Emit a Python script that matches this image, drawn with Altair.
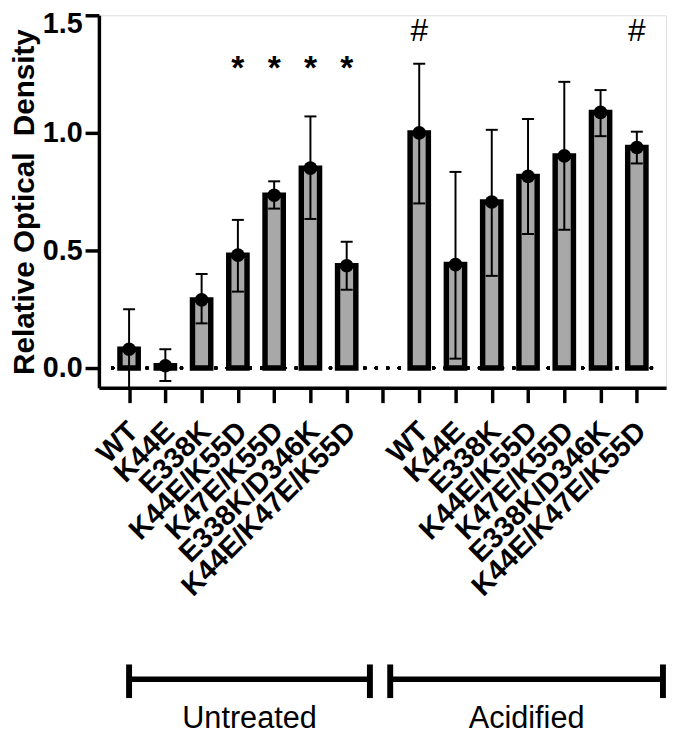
import json
import altair as alt
import pandas as pd

# ---- data ----
mutants = ["WT", "K44E", "E338K", "K44E/K55D", "K47E/K55D", "E338K/D346K", "K44E/K47E/K55D"]
groups = ["Untreated", "Acidified"]

untreated_mean = [0.08, 0.01, 0.29, 0.48, 0.735, 0.85, 0.435]
untreated_lo = [-0.085, -0.055, 0.19, 0.325, 0.678, 0.634, 0.333]
untreated_hi = [0.25, 0.08, 0.40, 0.63, 0.794, 1.07, 0.537]

acidified_mean = [1.0, 0.44, 0.706, 0.815, 0.902, 1.087, 0.938]
acidified_lo = [0.70, 0.04, 0.392, 0.57, 0.588, 0.986, 0.87]
acidified_hi = [1.294, 0.834, 1.013, 1.059, 1.217, 1.182, 1.005]

# slot index of each bar on the category axis (slot 7 is the empty gap)
untreated_slot = [0, 1, 2, 3, 4, 5, 6]
acidified_slot = [8, 9, 10, 11, 12, 13, 14]
tick_labels = mutants + [""] + mutants

# significance marks
star_slots = [3, 4, 5, 6]
star_level = [1.231, 1.231, 1.231, 1.231]
hash_slots = [8, 14]
hash_level = [1.39, 1.39]

# group brackets (in slot units)
bracket_start = [0.0, 7.2]
bracket_end = [6.64, 14.72]

# ---- tables ----
bars = pd.DataFrame({
    "slot": untreated_slot + acidified_slot,
    "name": mutants + mutants,
    "group": [groups[0]] * 7 + [groups[1]] * 7,
    "mean": untreated_mean + acidified_mean,
    "lo": untreated_lo + acidified_lo,
    "hi": untreated_hi + acidified_hi,
})
stars = pd.DataFrame({"slot": star_slots, "y": star_level, "t": ["*"] * len(star_slots)})
hashes = pd.DataFrame({"slot": hash_slots, "y": hash_level, "t": ["#"] * len(hash_slots)})
brackets = pd.DataFrame({"group": groups, "start": bracket_start, "end": bracket_end})

FONT = "Liberation Sans"
label_expr = json.dumps(tick_labels) + "[datum.value]"

xscale = alt.Scale(domain=[-0.696, 14.67], nice=False, zero=False)
yscale = alt.Scale(domain=[-0.084, 1.5], nice=False, zero=False)

x_axis = alt.Axis(
    values=list(range(15)), labelExpr=label_expr, title=None,
    labelAngle=-45, labelAlign="right", labelBaseline="middle",
    labelFontSize=29, labelFontWeight="bold", labelColor="black", labelFont=FONT,
    labelPadding=24, labelOffset=4, labelOverlap=False, labelBound=False, labelFlush=False,
    labelLimit=0,
    tickSize=15, tickWidth=3.5, tickColor="black",
    domainWidth=3.5, domainColor="black", grid=False,
)
y_axis = alt.Axis(
    values=[0, 0.5, 1.0, 1.5], format=".1f",
    title="Relative Optical\u00a0 Density", titleFontSize=30, titleFontWeight="bold",
    titleFont=FONT, titleColor="black", titlePadding=3,
    labelFontSize=29, labelFontWeight="bold", labelColor="black", labelFont=FONT,
    labelPadding=3, labelFlush=False, labelOverlap=False,
    labelOffset={"condition": {"test": "datum.value >= 1.5", "value": 8}, "value": 0},
    tickSize=14, tickWidth=3.5, tickColor="black",
    domainWidth=3.5, domainColor="black", grid=False,
)

base = alt.Chart(bars)

bar_layer = base.mark_bar(size=18.5, fill="#a8a8a8", stroke="black", strokeWidth=5.5).encode(
    x=alt.X("slot:Q", scale=xscale, axis=x_axis),
    y=alt.Y("mean:Q", scale=yscale, axis=y_axis),
    y2=alt.datum(0),
)

err_line = base.mark_rule(color="black", strokeWidth=2).encode(
    x="slot:Q", y="lo:Q", y2="hi:Q"
)
cap_hi = base.transform_calculate(a="datum.slot - 0.165", b="datum.slot + 0.165").mark_rule(
    color="black", strokeWidth=2
).encode(x="a:Q", x2="b:Q", y="hi:Q")
cap_lo = base.transform_calculate(a="datum.slot - 0.165", b="datum.slot + 0.165").mark_rule(
    color="black", strokeWidth=2
).encode(x="a:Q", x2="b:Q", y="lo:Q")

dots = base.mark_point(filled=True, shape="circle", size=190, color="black", opacity=1).encode(
    x="slot:Q", y="mean:Q"
)

zero_line = alt.Chart(bars).mark_rule(
    color="black", strokeWidth=3.5, strokeDash=[0, 11.6], strokeCap="round"
).encode(y=alt.datum(0), x=alt.value(14), x2=alt.value(563))

star_layer = alt.Chart(stars).mark_text(
    font=FONT, fontSize=34, fontWeight="bold", color="black", baseline="alphabetic"
).encode(x="slot:Q", y="y:Q", text="t:N")
hash_layer = alt.Chart(hashes).mark_text(
    font=FONT, fontSize=32, fontWeight="normal", color="black", baseline="alphabetic"
).encode(x="slot:Q", y="y:Q", text="t:N")

bracket_h = alt.Chart(brackets).mark_rule(color="black", strokeWidth=5.5).encode(
    x="start:Q", x2="end:Q", y=alt.value(672)
)
bracket_l = alt.Chart(brackets).mark_rule(color="black", strokeWidth=6).encode(
    x="start:Q", y=alt.value(657), y2=alt.value(691)
)
bracket_r = alt.Chart(brackets).mark_rule(color="black", strokeWidth=6).encode(
    x="end:Q", y=alt.value(657), y2=alt.value(691)
)
group_text = alt.Chart(brackets).transform_calculate(mid="(datum.start + datum.end) / 2").mark_text(
    font=FONT, fontSize=31, fontWeight="normal", color="black", baseline="alphabetic", align="center"
).encode(x="mid:Q", y=alt.value(721), text="group:N")

chart = alt.layer(
    bar_layer, err_line, cap_hi, cap_lo, dots, zero_line, star_layer, hash_layer,
    bracket_h, bracket_l, bracket_r, group_text,
).properties(
    width=574, height=377,
    autosize=alt.AutoSizeParams(type="none"),
    padding={"left": 92, "top": 3, "right": 6, "bottom": 347},
).configure_view(stroke=None).configure(font=FONT)

chart.save("out.html", embed_options={"renderer": "svg", "actions": False})
